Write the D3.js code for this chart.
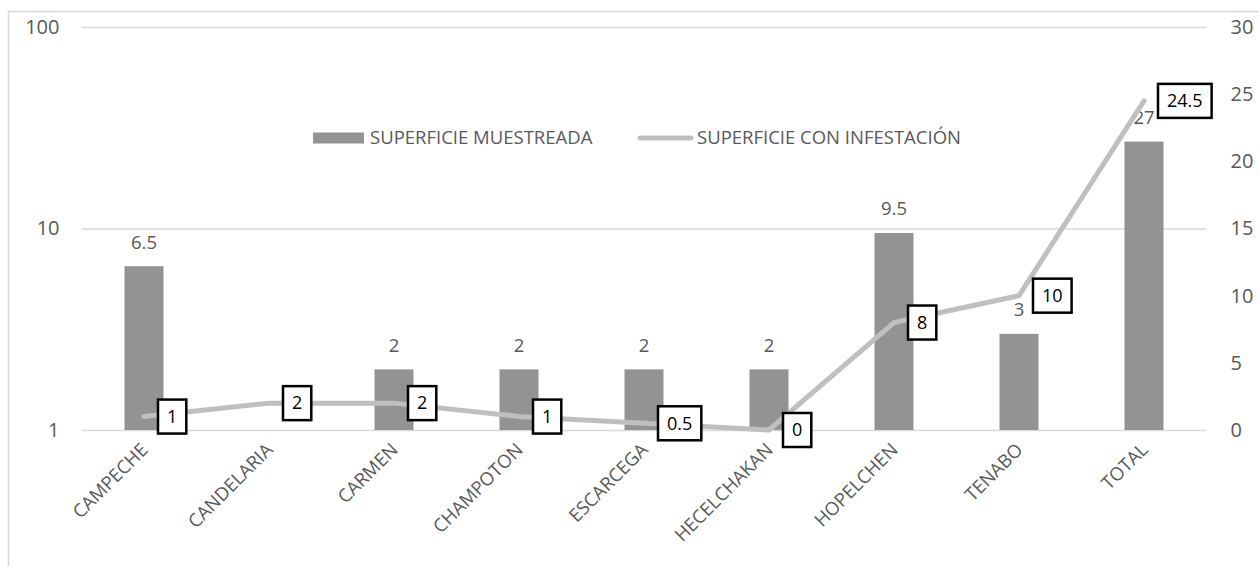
<!DOCTYPE html>
<html>
<head>
<meta charset="utf-8">
<script src="https://cdnjs.cloudflare.com/ajax/libs/d3/7.8.5/d3.min.js"></script>
<style>
  body { margin: 0; background: #fff; }
  text { font-family: "Open Sans", sans-serif; }
</style>
</head>
<body>
<div id="chart"></div>
<script>
// data
var categories = ["CAMPECHE", "CANDELARIA", "CARMEN", "CHAMPOTON", "ESCARCEGA", "HECELCHAKAN", "HOPELCHEN", "TENABO", "TOTAL"];
var muestreada = [6.5, null, 2, 2, 2, 2, 9.5, 3, 27];
var infestacion = [1, 2, 2, 1, 0.5, 0, 8, 10, 24.5];
var leftTicks = [1, 10, 100];
var rightTicks = [0, 5, 10, 15, 20, 25, 30];
var seriesNames = ["SUPERFICIE MUESTREADA", "SUPERFICIE CON INFESTACIÓN"];

var W = 1259, H = 566;
var margin = {top: 27, right: 52.5, bottom: 136, left: 81.5};
var width = W - margin.left - margin.right,
    height = H - margin.top - margin.bottom;

var barColor = "#939393", lineColor = "#bfbfbf", textColor = "#595959", gridColor = "#d9d9d9";

var svg = d3.select("#chart").append("svg")
    .attr("width", W)
    .attr("height", H);

// chart area border
svg.append("rect")
    .attr("x", 8.5).attr("y", 11.5)
    .attr("width", W + 10).attr("height", H + 10)
    .attr("fill", "none")
    .attr("stroke", gridColor)
    .attr("stroke-width", 1.5);

var g = svg.append("g")
    .attr("transform", "translate(" + margin.left + "," + margin.top + ")");

// Scales
var x = d3.scaleBand().domain(categories).range([0, width])
    .paddingInner(0.688).paddingOuter(0.344);
var yL = d3.scaleLog().domain([1, 100]).range([height, 0]);
var yR = d3.scaleLinear().domain([0, 30]).range([height, 0]);

// gridlines (left axis decades)
g.selectAll(".grid")
    .data(leftTicks)
  .enter().append("line")
    .attr("x1", 0).attr("x2", width)
    .attr("y1", function(d) { return yL(d) + 0.5; })
    .attr("y2", function(d) { return yL(d) + 0.5; })
    .attr("stroke", gridColor)
    .attr("stroke-width", 1.5);

// Left axis
var axL = g.append("g")
    .call(d3.axisLeft(yL).tickValues(leftTicks).tickFormat(d3.format("d")).tickSize(0).tickPadding(22));
axL.select(".domain").remove();
axL.selectAll("text").attr("fill", textColor).style("font-size", "20px").style("font-family", "Open Sans");

// Right axis
var axR = g.append("g")
    .attr("transform", "translate(" + width + ",0)")
    .call(d3.axisRight(yR).tickValues(rightTicks).tickSize(0).tickPadding(24));
axR.select(".domain").remove();
axR.selectAll("text").attr("fill", textColor).style("font-size", "20px").style("font-family", "Open Sans");

// Bars
var barData = categories.map(function(c, i) { return {cat: c, v: muestreada[i]}; })
    .filter(function(d) { return d.v != null; });

g.selectAll(".bar")
    .data(barData)
  .enter().append("rect")
    .attr("class", "bar")
    .attr("x", function(d) { return x(d.cat); })
    .attr("width", x.bandwidth())
    .attr("y", function(d) { return yL(d.v); })
    .attr("height", function(d) { return height - yL(d.v); })
    .attr("fill", barColor);

// Category axis
var axX = g.append("g")
    .attr("transform", "translate(0," + height + ")")
    .call(d3.axisBottom(x).tickSize(0).tickPadding(0));
axX.select(".domain").remove();
axX.selectAll("text")
    .attr("fill", textColor)
    .style("font-size", "18.5px")
    .style("font-family", "Open Sans")
    .attr("text-anchor", "end")
    .attr("dy", null)
    .attr("y", 0)
    .attr("transform", "translate(5,21) rotate(-45)");

// Bar value labels
g.selectAll(".barlabel")
    .data(barData)
  .enter().append("text")
    .attr("x", function(d) { return x(d.cat) + x.bandwidth() / 2; })
    .attr("y", function(d) { return yL(d.v) - 24; })
    .attr("dy", "0.35em")
    .attr("text-anchor", "middle")
    .attr("fill", textColor)
    .style("font-size", "18.5px")
    .text(function(d) { return d.v; });

// Line
var lineData = categories.map(function(c, i) { return {cat: c, v: infestacion[i]}; });
var line = d3.line()
    .x(function(d) { return x(d.cat) + x.bandwidth() / 2; })
    .y(function(d) { return yR(d.v); });

g.append("path")
    .datum(lineData)
    .attr("d", line)
    .attr("fill", "none")
    .attr("stroke", lineColor)
    .attr("stroke-width", 5)
    .attr("stroke-linejoin", "round")
    .attr("stroke-linecap", "round");

// Line value labels in boxes
var lbl = g.selectAll(".linelabel")
    .data(lineData)
  .enter().append("g")
    .attr("class", "linelabel")
    .attr("transform", function(d) {
        return "translate(" + (x(d.cat) + x.bandwidth() / 2 + 14) + "," + yR(d.v) + ")";
    });
lbl.append("text")
    .attr("x", 9)
    .attr("dy", "0.35em")
    .attr("fill", "#000")
    .style("font-size", "18px")
    .text(function(d) { return d.v; });
lbl.each(function() {
    var t = d3.select(this).select("text");
    var bb = t.node().getBBox();
    d3.select(this).insert("rect", "text")
        .attr("x", 0).attr("y", -17)
        .attr("width", bb.width + 18).attr("height", 34)
        .attr("fill", "#fff")
        .attr("stroke", "#000")
        .attr("stroke-width", 2.5);
});

// Legend
var leg = svg.append("g").attr("transform", "translate(0,138)");
leg.append("rect")
    .attr("x", 313).attr("y", -5.5)
    .attr("width", 51).attr("height", 11)
    .attr("fill", barColor);
leg.append("text")
    .attr("x", 370).attr("dy", "0.35em")
    .attr("fill", textColor)
    .style("font-size", "18.5px")
    .text(seriesNames[0]);
leg.append("line")
    .attr("x1", 640).attr("x2", 691)
    .attr("stroke", lineColor)
    .attr("stroke-width", 5)
    .attr("stroke-linecap", "round");
leg.append("text")
    .attr("x", 697).attr("dy", "0.35em")
    .attr("fill", textColor)
    .style("font-size", "18.5px")
    .text(seriesNames[1]);
</script>
</body>
</html>
